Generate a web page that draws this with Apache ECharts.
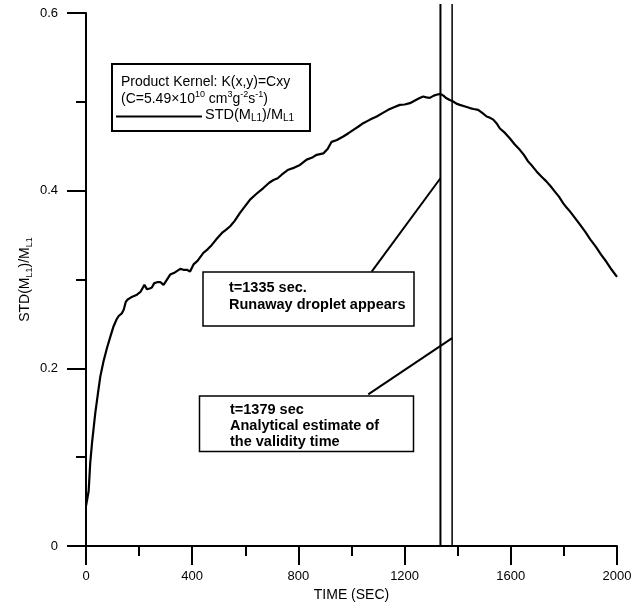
<!DOCTYPE html>
<html>
<head>
<meta charset="utf-8">
<script src="https://cdn.jsdelivr.net/npm/echarts@6/dist/echarts.min.js"></script>
<style>
  html, body { margin: 0; padding: 0; background: #fff; }
  #chart { width: 635px; height: 607px; }
</style>
</head>
<body>
<div id="chart"></div>
<script>
// time axis (sec) and STD(ML1)/ML1
var times = [0, 4, 10, 16, 23, 35, 45, 54, 66, 79, 92, 104, 115, 123, 135, 142, 150, 157, 170, 192,
  205, 220, 230, 240, 248, 257, 268, 280, 292, 305, 317, 335, 355, 367, 380, 392, 405, 420, 442, 458,
  474, 490, 512, 527, 543, 560, 580, 600, 618, 640, 668, 690, 706, 722, 737, 762, 785, 806, 831, 850,
  869, 894, 910, 925, 945, 969, 990, 1007, 1025, 1044, 1070, 1095, 1115, 1138, 1160, 1182, 1200, 1220, 1239, 1255,
  1270, 1282, 1295, 1310, 1320, 1335, 1346, 1358, 1370, 1383, 1395, 1408, 1425, 1446, 1460, 1477, 1495, 1509, 1522, 1534,
  1546, 1559, 1578, 1596, 1615, 1634, 1650, 1665, 1680, 1697, 1715, 1734, 1750, 1766, 1782, 1797, 1810, 1822, 1840, 1860,
  1880, 1900, 1920, 1940, 1960, 1980, 2000]
var ratio = [0.045, 0.043, 0.062, 0.094, 0.117, 0.150, 0.172, 0.191, 0.208, 0.223, 0.236, 0.2475, 0.255, 0.259, 0.262, 0.266, 0.275, 0.2775, 0.280, 0.283,
  0.286, 0.294, 0.289, 0.290, 0.291, 0.296, 0.297, 0.297, 0.294, 0.300, 0.3056, 0.308, 0.312, 0.311, 0.311, 0.309, 0.317, 0.321, 0.330, 0.334,
  0.339, 0.345, 0.3525, 0.356, 0.360, 0.366, 0.375, 0.383, 0.390, 0.396, 0.403, 0.409, 0.412, 0.414, 0.418, 0.4236, 0.426, 0.429, 0.435, 0.437,
  0.4404, 0.442, 0.447, 0.455, 0.457, 0.461, 0.465, 0.4685, 0.472, 0.476, 0.480, 0.4835, 0.487, 0.491, 0.494, 0.4966, 0.497, 0.4985, 0.5015, 0.504,
  0.506, 0.505, 0.5045, 0.507, 0.508, 0.509, 0.507, 0.504, 0.502, 0.5004, 0.498, 0.4966, 0.495, 0.493, 0.492, 0.491, 0.487, 0.4835, 0.482, 0.480,
  0.476, 0.470, 0.465, 0.459, 0.452, 0.446, 0.440, 0.433, 0.428, 0.4217, 0.416, 0.4105, 0.405, 0.399, 0.393, 0.386, 0.381, 0.377, 0.370, 0.362,
  0.354, 0.345, 0.337, 0.328, 0.320, 0.311, 0.303]

var runawayTime = 1335
var validityTime = 1379
var markerTop = 0.61
// annotation leader lines [time, value]
var runawayLeader = [[1076, 0.309], [1335, 0.414]]
var validityLeader = [[1063, 0.1708], [1379, 0.234]]

var FONT = 'Liberation Sans, Arial, sans-serif'

var chart = echarts.init(document.getElementById('chart'))

var curve = times.map(function (t, i) { return [t, ratio[i]] })

var axisCommon = {
  axisLine: { show: true, onZero: false, lineStyle: { color: '#000', width: 2 } },
  axisTick: { show: true, length: 19, lineStyle: { color: '#000', width: 2 } },
  minorTick: { show: true, splitNumber: 2, length: 10, lineStyle: { color: '#000', width: 2 } },
  splitLine: { show: false },
  minorSplitLine: { show: false }
}

chart.setOption({
  animation: false,
  backgroundColor: '#fff',
  grid: { left: 86, right: 18, top: 13, bottom: 60, containLabel: false },
  xAxis: Object.assign({
    type: 'value',
    min: 0,
    max: 2000,
    interval: 400,
    name: 'TIME (SEC)',
    nameLocation: 'middle',
    nameGap: 39,
    nameTextStyle: { color: '#000', fontSize: 14, fontFamily: FONT },
    axisLabel: { color: '#000', fontSize: 13, fontFamily: FONT, margin: 24, formatter: function (v) { return String(v) } }
  }, axisCommon),
  yAxis: Object.assign({
    type: 'value',
    min: 0,
    max: 0.6,
    interval: 0.2,
    name: '{n|STD(M}{s|L1}{n|)/M}{s|L1}',
    nameLocation: 'middle',
    nameRotate: 90,
    nameGap: 52,
    nameMoveOverlap: false,
    nameTextStyle: {
      color: '#000',
      rich: {
        n: { fontSize: 14, fontFamily: FONT, color: '#000', lineHeight: 18 },
        s: { fontSize: 9, fontFamily: FONT, color: '#000', lineHeight: 9, verticalAlign: 'bottom' }
      }
    },
    axisLabel: { color: '#000', fontSize: 13, fontFamily: FONT, margin: 28 }
  }, axisCommon),
  series: [
    {
      type: 'line',
      data: curve,
      showSymbol: false,
      symbol: 'none',
      lineStyle: { color: '#000', width: 2.2 },
      z: 3
    },
    {
      type: 'line',
      data: [[runawayTime, 0], [runawayTime, markerTop]],
      symbol: 'none',
      clip: false,
      lineStyle: { color: '#000', width: 2 }
    },
    {
      type: 'line',
      data: [[validityTime, 0], [validityTime, markerTop]],
      symbol: 'none',
      clip: false,
      lineStyle: { color: '#000', width: 1.5 }
    },
    {
      type: 'line',
      data: runawayLeader,
      symbol: 'none',
      lineStyle: { color: '#000', width: 2 }
    },
    {
      type: 'line',
      data: validityLeader,
      symbol: 'none',
      lineStyle: { color: '#000', width: 2 }
    }
  ],
  graphic: [
    // legend box
    {
      type: 'rect', z: 100,
      shape: { x: 112, y: 64, width: 198, height: 67 },
      style: { fill: '#fff', stroke: '#000', lineWidth: 2 }
    },
    {
      type: 'text', z: 101, x: 121, y: 82,
      style: { text: 'Product Kernel: K(x,y)=Cxy', fontSize: 14, fontFamily: FONT, fill: '#000', verticalAlign: 'middle' }
    },
    {
      type: 'text', z: 101, x: 121, y: 99,
      style: {
        text: '{a|(C=5.49×10}{s|10}{a| cm}{s|3}{a|g}{s|-2}{a|s}{s|-1}{a|)}',
        verticalAlign: 'middle',
        rich: {
          a: { fontSize: 14, fontFamily: FONT, fill: '#000', lineHeight: 17 },
          s: { fontSize: 9, fontFamily: FONT, fill: '#000', lineHeight: 9, verticalAlign: 'top' }
        }
      }
    },
    {
      type: 'line', z: 101,
      shape: { x1: 116, y1: 116.5, x2: 202, y2: 116.5 },
      style: { stroke: '#000', lineWidth: 2 }
    },
    {
      type: 'text', z: 101, x: 205, y: 115,
      style: {
        text: '{a|STD(M}{s|L1}{a|)/M}{s|L1}',
        verticalAlign: 'middle',
        rich: {
          a: { fontSize: 14.5, fontFamily: FONT, fill: '#000', lineHeight: 17 },
          s: { fontSize: 10, fontFamily: FONT, fill: '#000', lineHeight: 9, verticalAlign: 'bottom' }
        }
      }
    },
    // runaway droplet box
    {
      type: 'rect', z: 100,
      shape: { x: 203, y: 272, width: 211, height: 54 },
      style: { fill: '#fff', stroke: '#000', lineWidth: 1.5 }
    },
    {
      type: 'text', z: 101, x: 229, y: 287.5,
      style: { text: 't=1335 sec.', fontSize: 14.5, fontWeight: 'bold', fontFamily: FONT, fill: '#000', verticalAlign: 'middle' }
    },
    {
      type: 'text', z: 101, x: 229, y: 305,
      style: { text: 'Runaway droplet appears', fontSize: 14.5, fontWeight: 'bold', fontFamily: FONT, fill: '#000', verticalAlign: 'middle' }
    },
    // validity time box
    {
      type: 'rect', z: 100,
      shape: { x: 199.5, y: 396, width: 214, height: 55.5 },
      style: { fill: '#fff', stroke: '#000', lineWidth: 1.5 }
    },
    {
      type: 'text', z: 101, x: 230, y: 409.5,
      style: { text: 't=1379 sec', fontSize: 14.5, fontWeight: 'bold', fontFamily: FONT, fill: '#000', verticalAlign: 'middle' }
    },
    {
      type: 'text', z: 101, x: 230, y: 425.7,
      style: { text: 'Analytical estimate of', fontSize: 14.5, fontWeight: 'bold', fontFamily: FONT, fill: '#000', verticalAlign: 'middle' }
    },
    {
      type: 'text', z: 101, x: 230, y: 441.7,
      style: { text: 'the validity time', fontSize: 14.5, fontWeight: 'bold', fontFamily: FONT, fill: '#000', verticalAlign: 'middle' }
    }
  ]
})
</script>
</body>
</html>
